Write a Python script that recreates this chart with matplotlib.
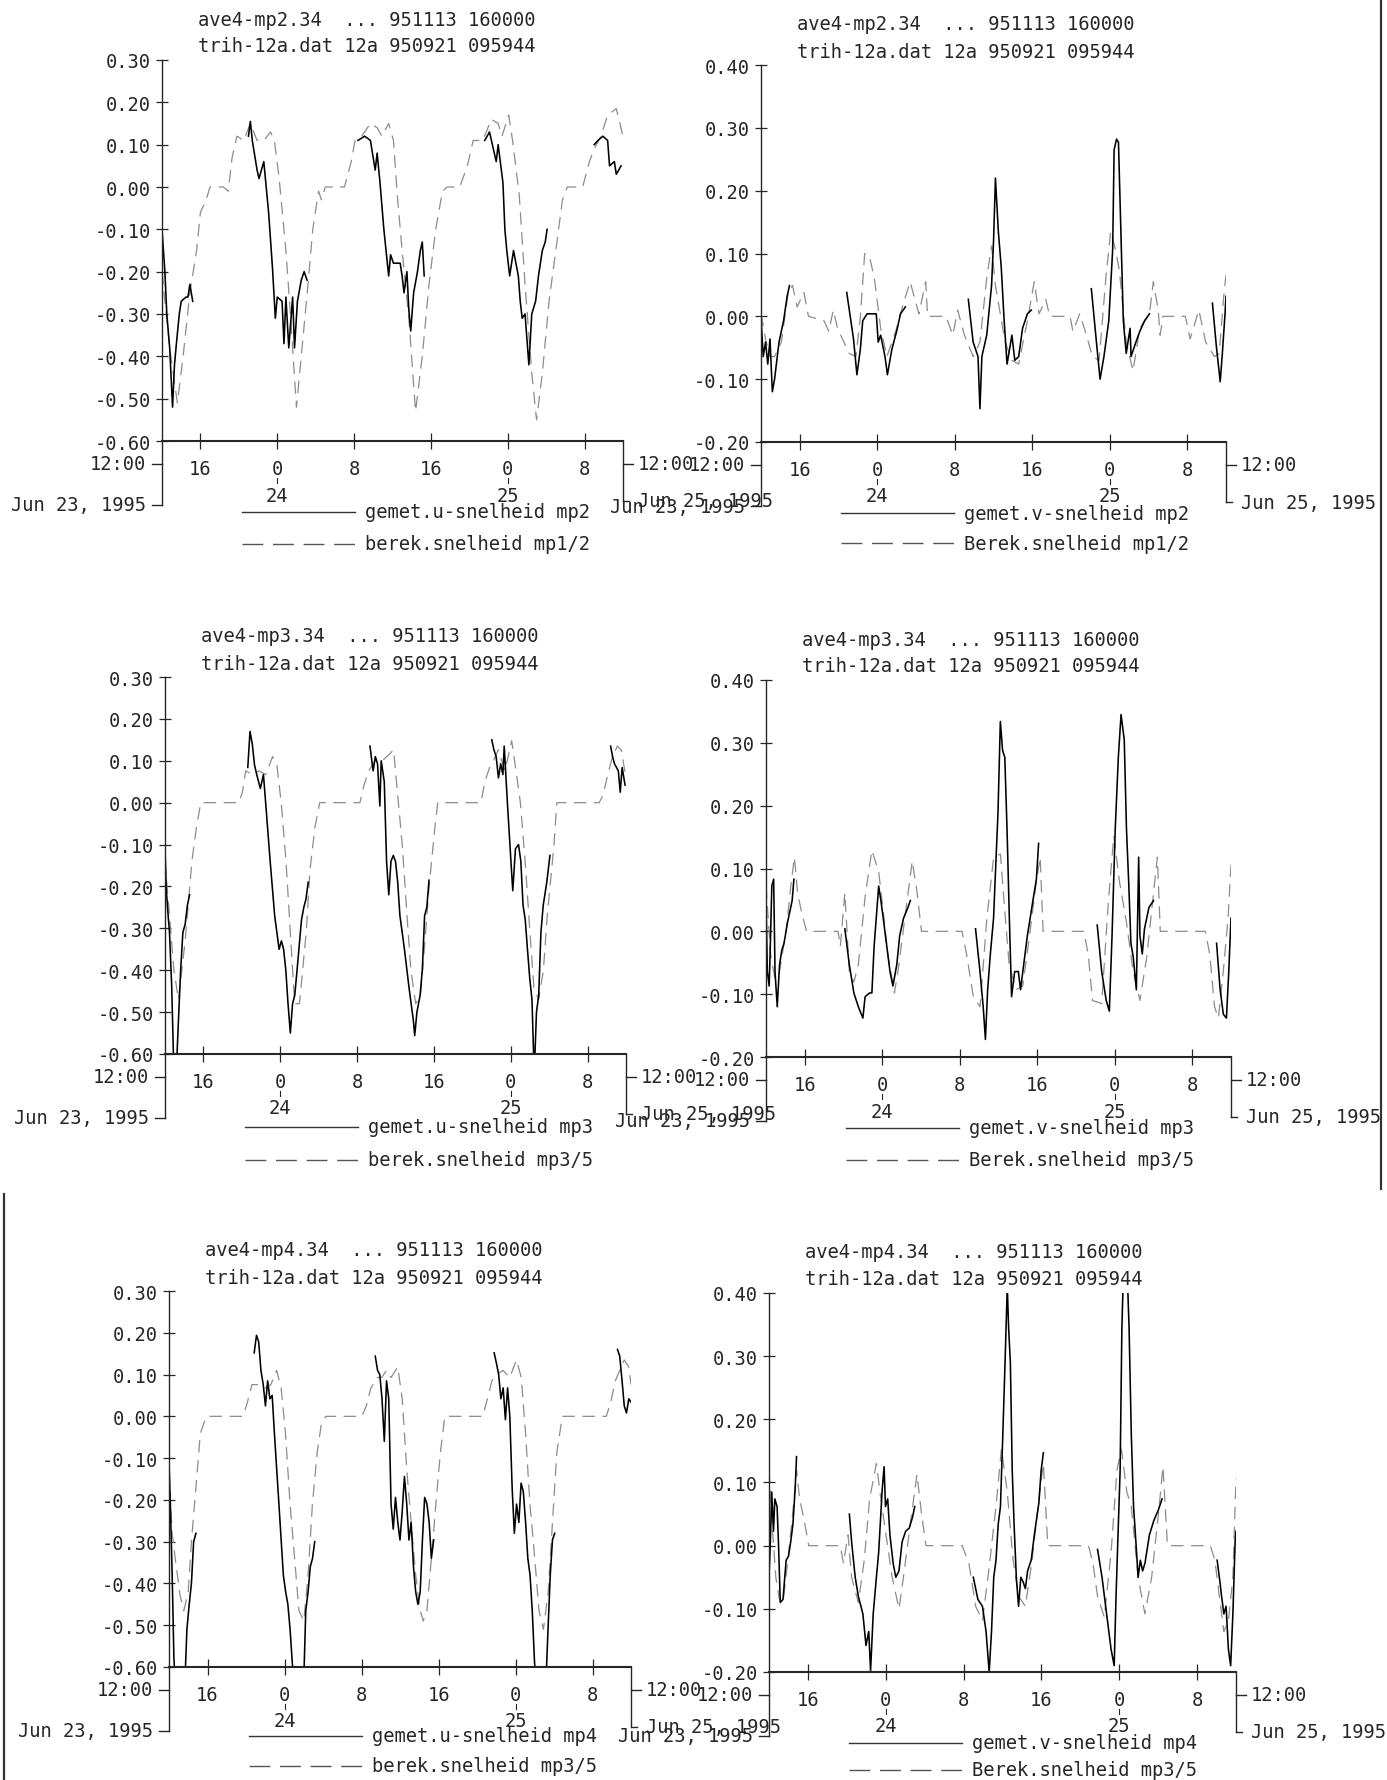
import matplotlib
matplotlib.use("Agg")
import matplotlib.pyplot as plt
from matplotlib.lines import Line2D

W, H = 1387, 1781
FONT = "DejaVu Sans Mono"
FS = 13.5
INK = "#262626"
CALC = "#8c8c8c"
plt.rcParams["font.family"] = [FONT]

# ---- data: (hours since Jun 23 12:00, velocity m/s) ----
# panel 1: u mp2
p1_calc = [(0.0, -0.20), (0.8, -0.38), (1.6, -0.51), (2.2, -0.40), (2.9, -0.25), (3.6, -0.15),
           (4.0, -0.06), (4.6, -0.03), (5.0, 0.00), (6.4, 0.00), (6.9, -0.01), (7.3, 0.07),
           (7.8, 0.12), (8.5, 0.11), (9.2, 0.15), (9.9, 0.11), (10.6, 0.11), (11.3, 0.13),
           (11.7, 0.11), (12.2, 0.02), (12.9, -0.15), (13.4, -0.31), (14.0, -0.52), (14.5, -0.40),
           (15.2, -0.23), (15.7, -0.10), (16.3, -0.01), (16.6, -0.03), (17.0, 0.00), (19.0, 0.00),
           (19.7, 0.06), (20.1, 0.11), (20.8, 0.12), (21.7, 0.15), (22.4, 0.14), (22.9, 0.12),
           (23.6, 0.15), (24.1, 0.11), (24.5, -0.02), (25.0, -0.15), (25.7, -0.31), (26.4, -0.53),
           (27.1, -0.40), (27.8, -0.23), (28.5, -0.10), (29.2, -0.01), (29.7, 0.00), (31.0, 0.00),
           (31.8, 0.05), (32.4, 0.11), (33.4, 0.11), (34.3, 0.16), (35.0, 0.15), (35.4, 0.12),
           (36.1, 0.17), (36.5, 0.11), (37.2, -0.02), (37.8, -0.23), (38.5, -0.44), (39.0, -0.55),
           (39.6, -0.44), (40.3, -0.27), (41.0, -0.15), (41.7, -0.03), (42.2, 0.00), (43.8, 0.00),
           (44.5, 0.06), (45.0, 0.09), (45.7, 0.12), (46.4, 0.17), (47.3, 0.185), (48.0, 0.12)]
p1_meas = [
    [(0, -0.10), (0.3, -0.20), (0.5, -0.30), (0.8, -0.38), (1.1, -0.52), (1.3, -0.42), (1.5, -0.37),
     (1.8, -0.30), (2.0, -0.27), (2.5, -0.26), (2.7, -0.26), (2.9, -0.23), (3.2, -0.27)],
    [(9.0, 0.12), (9.2, 0.155), (9.4, 0.11), (9.9, 0.04), (10.1, 0.02), (10.6, 0.06), (11.1, -0.06),
     (11.5, -0.19), (11.8, -0.31), (12.0, -0.26), (12.5, -0.27), (12.7, -0.37), (12.9, -0.26),
     (13.2, -0.38), (13.6, -0.26), (13.8, -0.38), (14.1, -0.27), (14.5, -0.22), (14.8, -0.20), (15.1, -0.22)],
    [(20.4, 0.11), (21.1, 0.12), (21.7, 0.11), (22.2, 0.04), (22.4, 0.08), (22.7, 0.01), (23.1, -0.10),
     (23.6, -0.21), (23.8, -0.16), (24.1, -0.18), (24.8, -0.18), (25.0, -0.21), (25.2, -0.25),
     (25.5, -0.20), (25.7, -0.29), (25.9, -0.34), (26.2, -0.25), (26.6, -0.20), (26.9, -0.15),
     (27.1, -0.13), (27.3, -0.21)],
    [(33.6, 0.11), (34.1, 0.13), (34.5, 0.09), (34.8, 0.06), (35.0, 0.10), (35.5, 0.01), (35.7, -0.10),
     (35.9, -0.15), (36.2, -0.21), (36.6, -0.15), (37.1, -0.21), (37.3, -0.27), (37.5, -0.31),
     (37.8, -0.30), (38.0, -0.36), (38.2, -0.42), (38.5, -0.30), (38.9, -0.27), (39.2, -0.21),
     (39.6, -0.15), (39.9, -0.13), (40.1, -0.10)],
    [(45.0, 0.10), (45.4, 0.11), (45.9, 0.12), (46.4, 0.11), (46.6, 0.05), (47.1, 0.06), (47.3, 0.03), (47.8, 0.05)],
]

# panel 2: v mp2
p2_calc = [(0.0, 0.004), (0.47, -0.036), (0.93, -0.064), (1.4, -0.064), (2.1, -0.041), (2.8, 0.038),
           (3.26, 0.049), (3.73, 0.015), (4.43, 0.038), (4.9, 0.0), (6.5, -0.007), (7.0, -0.024),
           (7.46, 0.01), (7.9, -0.019), (9.1, -0.059), (9.8, -0.064), (10.25, -0.002), (10.7, 0.10),
           (11.2, 0.095), (11.7, 0.061), (12.35, -0.019), (13.0, -0.064), (14.0, -0.019), (14.7, 0.021),
           (15.4, 0.055), (15.8, 0.032), (16.3, 0.004), (17.0, 0.055), (17.2, 0.0), (19.1, 0.0),
           (19.8, -0.03), (20.3, 0.01), (21.0, -0.03), (21.9, -0.064), (22.6, -0.041), (23.3, 0.061),
           (23.8, 0.112), (24.2, 0.049), (25.2, -0.041), (25.9, -0.07), (26.6, -0.076), (27.5, -0.007),
           (28.2, 0.055), (28.7, 0.004), (29.4, 0.027), (29.8, 0.0), (31.9, 0.0), (32.2, -0.024),
           (32.9, 0.004), (33.6, -0.03), (34.2, -0.064), (34.9, -0.07), (35.6, 0.061), (36.1, 0.135),
           (36.6, 0.106), (37.0, 0.072), (37.7, -0.041), (38.4, -0.087), (39.1, -0.019), (40.1, 0.004),
           (40.5, 0.055), (41.0, 0.01), (41.2, -0.03), (41.5, 0.0), (43.8, 0.0), (44.3, -0.036),
           (45.2, 0.01), (45.9, -0.041), (46.8, -0.064), (47.3, -0.059), (47.8, 0.038), (48.0, 0.066)]
p2_meas = [
    [(0, -0.002), (0.23, -0.064), (0.47, -0.041), (0.7, -0.076), (0.93, -0.036), (1.17, -0.12),
     (1.4, -0.10), (1.86, -0.041), (2.33, -0.007), (2.7, 0.032), (2.94, 0.049)],
    [(8.85, 0.038), (9.55, -0.036), (9.9, -0.093), (10.25, -0.053), (10.5, -0.007), (10.95, 0.004),
     (11.4, 0.004), (11.9, 0.004), (12.1, -0.041), (12.35, -0.03), (12.8, -0.064), (13.05, -0.093),
     (13.5, -0.053), (14.0, -0.024), (14.4, 0.004), (14.9, 0.015)],
    [(21.4, 0.027), (21.9, -0.041), (22.4, -0.064), (22.6, -0.147), (22.8, -0.064), (23.3, -0.03),
     (23.8, 0.049), (24.0, 0.118), (24.2, 0.22), (24.5, 0.135), (24.8, 0.078), (25.1, -0.007),
     (25.4, -0.076), (25.9, -0.03), (26.2, -0.07), (26.6, -0.064), (27.0, -0.019), (27.5, 0.004), (27.9, 0.01)],
    [(34.1, 0.044), (34.7, -0.053), (35.0, -0.10), (35.4, -0.064), (35.9, -0.007), (36.3, 0.106),
     (36.45, 0.265), (36.7, 0.282), (36.9, 0.277), (37.2, 0.106), (37.4, -0.007), (37.7, -0.059),
     (38.1, -0.019), (38.2, -0.064), (38.7, -0.041), (39.1, -0.024), (39.6, -0.007), (40.1, 0.004)],
    [(46.6, 0.021), (47.0, -0.047), (47.4, -0.104), (47.6, -0.064), (47.9, 0.004), (48.0, 0.032)],
]

# panel 3: u mp3
p3_calc = [(0, -0.14), (0.47, -0.27), (0.93, -0.40), (1.4, -0.47), (2.1, -0.33), (2.8, -0.14),
           (3.26, -0.06), (3.73, 0.0), (7.7, 0.0), (8.06, 0.025), (8.4, 0.076), (9.1, 0.067),
           (9.8, 0.076), (10.5, 0.067), (11.2, 0.11), (11.65, 0.09), (12.1, 0.0), (12.6, -0.14),
           (13.05, -0.31), (13.5, -0.48), (14.0, -0.48), (14.7, -0.31), (15.1, -0.16), (15.6, -0.06),
           (16.1, 0.0), (20.3, 0.0), (20.7, 0.04), (21.2, 0.076), (21.9, 0.10), (22.6, 0.10),
           (23.1, 0.11), (23.8, 0.126), (24.2, 0.025), (24.7, -0.10), (25.2, -0.27), (25.6, -0.40),
           (26.1, -0.48), (26.6, -0.46), (27.0, -0.35), (27.5, -0.20), (28.1, -0.06), (28.4, 0.0),
           (32.9, 0.0), (33.3, 0.05), (33.8, 0.084), (34.2, 0.10), (34.7, 0.126), (35.4, 0.076),
           (36.1, 0.148), (36.6, 0.067), (37.0, 0.0), (37.5, -0.14), (38.0, -0.31), (38.4, -0.44),
           (38.9, -0.47), (39.4, -0.40), (39.8, -0.27), (40.5, -0.10), (40.8, 0.0), (45.2, 0.0),
           (45.6, 0.017), (46.1, 0.067), (46.6, 0.11), (47.1, 0.135), (47.5, 0.126), (48.0, 0.059)]
p3_meas = [
    [(0, -0.11), (0.14, -0.21), (0.33, -0.27), (0.47, -0.31), (0.7, -0.44), (0.93, -0.65), (1.16, -0.65),
     (1.4, -0.52), (1.63, -0.40), (1.86, -0.31), (2.1, -0.29), (2.33, -0.245), (2.56, -0.22)],
    [(8.62, 0.084), (8.85, 0.17), (9.09, 0.14), (9.32, 0.09), (9.55, 0.067), (9.93, 0.034), (10.25, 0.067),
     (10.48, 0.0), (10.95, -0.14), (11.42, -0.27), (11.88, -0.35), (12.12, -0.33), (12.35, -0.35),
     (12.58, -0.40), (12.81, -0.48), (13.05, -0.55), (13.28, -0.48), (13.51, -0.46), (13.75, -0.40),
     (14.21, -0.28), (14.45, -0.25), (14.68, -0.23), (14.91, -0.19)],
    [(21.34, 0.135), (21.67, 0.076), (21.9, 0.11), (22.13, 0.093), (22.37, -0.008), (22.51, 0.10),
     (22.83, 0.05), (23.07, -0.14), (23.3, -0.22), (23.53, -0.14), (23.77, -0.126), (24.0, -0.14),
     (24.23, -0.19), (24.46, -0.27), (24.7, -0.31), (24.93, -0.35), (25.4, -0.44), (25.63, -0.48),
     (25.86, -0.52), (26.0, -0.556), (26.23, -0.50), (26.56, -0.46), (26.79, -0.40), (27.03, -0.27),
     (27.26, -0.25), (27.49, -0.185)],
    [(34.02, 0.15), (34.25, 0.126), (34.48, 0.11), (34.72, 0.059), (34.95, 0.093), (35.18, 0.067),
     (35.32, 0.135), (35.65, 0.0), (36.02, -0.14), (36.21, -0.21), (36.49, -0.11), (36.81, -0.10),
     (37.05, -0.14), (37.28, -0.245), (37.51, -0.28), (37.74, -0.35), (37.98, -0.42), (38.21, -0.47),
     (38.44, -0.65), (38.68, -0.50), (38.91, -0.46), (39.14, -0.31), (39.38, -0.245), (39.75, -0.19),
     (40.08, -0.126)],
    [(46.4, 0.135), (46.6, 0.11), (46.8, 0.093), (47.2, 0.076), (47.4, 0.025), (47.6, 0.084), (47.9, 0.042)],
]

# panel 4: v mp3
p4_calc = [(0, 0.072), (0.23, 0.02), (0.47, -0.036), (0.93, -0.076), (1.4, -0.064), (2.1, 0.004),
           (2.56, 0.072), (2.93, 0.118), (3.26, 0.061), (3.72, 0.027), (4.19, 0.0), (7.44, 0.0),
           (7.67, -0.024), (8.14, 0.061), (8.6, -0.064), (9.07, -0.081), (9.53, -0.053), (10.23, 0.055),
           (10.93, 0.129), (11.63, 0.095), (12.1, 0.032), (12.56, -0.036), (13.26, -0.098), (13.72, -0.053),
           (14.42, 0.032), (15.1, 0.112), (15.6, 0.061), (16.05, 0.0), (20.23, 0.0), (20.7, -0.036),
           (21.4, -0.104), (22.1, -0.12), (22.8, 0.021), (23.5, 0.118), (24.2, 0.123), (24.65, 0.032),
           (25.1, -0.053), (25.8, -0.093), (26.5, -0.087), (27.2, -0.007), (27.9, 0.078), (28.3, 0.118),
           (28.6, 0.0), (32.8, 0.0), (33.26, -0.036), (33.7, -0.11), (34.65, -0.115), (35.35, 0.049),
           (35.9, 0.152), (36.5, 0.078), (37.2, 0.015), (37.9, -0.064), (38.6, -0.11), (39.3, -0.041),
           (40.0, 0.061), (40.4, 0.118), (40.7, 0.0), (45.35, 0.0), (45.8, -0.036), (46.3, -0.12),
           (46.7, -0.138), (47.2, -0.064), (47.7, 0.021), (48.0, 0.106)]
p4_meas = [
    [(0, 0.049), (0.14, -0.064), (0.33, -0.087), (0.47, -0.007), (0.6, 0.072), (0.79, 0.083), (0.93, -0.064),
     (1.16, -0.12), (1.4, -0.053), (1.63, -0.03), (1.86, -0.019), (2.23, 0.015), (2.47, 0.032),
     (2.7, 0.049), (2.88, 0.083)],
    [(8.14, 0.004), (8.6, -0.053), (9.07, -0.098), (9.53, -0.12), (10.0, -0.138), (10.23, -0.104),
     (10.7, -0.098), (10.93, -0.098), (11.16, -0.024), (11.63, 0.072), (11.86, 0.049), (12.1, 0.021),
     (12.33, -0.007), (12.8, -0.064), (13.1, -0.087), (13.5, -0.053), (13.8, -0.007), (14.2, 0.021),
     (14.65, 0.038), (14.9, 0.049)],
    [(21.63, 0.004), (22.09, -0.064), (22.42, -0.12), (22.65, -0.172), (22.88, -0.093), (23.16, -0.036),
     (23.49, 0.021), (23.72, 0.106), (23.95, 0.19), (24.19, 0.334), (24.42, 0.288), (24.65, 0.277),
     (24.88, 0.163), (25.12, 0.021), (25.35, -0.104), (25.67, -0.064), (26.05, -0.064), (26.28, -0.093),
     (26.51, -0.064), (26.98, -0.007), (27.44, 0.038), (27.91, 0.083), (28.14, 0.14)],
    [(34.19, 0.01), (34.65, -0.064), (35.12, -0.11), (35.44, -0.127), (35.72, -0.007), (36.05, 0.163),
     (36.37, 0.277), (36.65, 0.345), (36.98, 0.305), (37.21, 0.163), (37.44, 0.078), (37.67, -0.019),
     (37.91, -0.041), (38.23, -0.093), (38.47, 0.118), (38.6, -0.007), (38.84, -0.036), (39.07, 0.004),
     (39.53, 0.038), (40.0, 0.049)],
    [(46.51, -0.019), (46.88, -0.093), (47.21, -0.132), (47.53, -0.138), (47.77, -0.064), (48.0, 0.021)],
]

# panel 5: u mp4
p5_calc = [(0, -0.13), (0.33, -0.28), (0.7, -0.35), (1.16, -0.43), (1.54, -0.465), (2.0, -0.42),
           (2.33, -0.30), (2.8, -0.17), (3.26, -0.04), (3.73, -0.01), (3.96, 0.0), (7.69, 0.0),
           (8.15, 0.034), (8.62, 0.076), (9.32, 0.076), (10.0, 0.068), (10.58, 0.076), (11.18, 0.11),
           (11.65, 0.068), (12.1, -0.04), (12.58, -0.21), (13.05, -0.34), (13.5, -0.465), (14.0, -0.49),
           (14.45, -0.38), (14.9, -0.21), (15.4, -0.085), (15.84, -0.017), (16.3, 0.0), (20.04, 0.0),
           (20.5, 0.025), (20.97, 0.068), (21.67, 0.093), (22.1, 0.093), (22.6, 0.11), (23.07, 0.093),
           (23.77, 0.118), (24.23, 0.042), (24.7, -0.127), (25.16, -0.254), (25.63, -0.38), (26.1, -0.465),
           (26.42, -0.49), (26.8, -0.465), (27.26, -0.34), (27.73, -0.21), (28.2, -0.085), (28.66, 0.0),
           (32.6, 0.0), (33.08, 0.042), (33.55, 0.085), (34.0, 0.10), (34.7, 0.11), (35.4, 0.093),
           (36.1, 0.135), (36.6, 0.093), (37.05, -0.042), (37.5, -0.21), (38.0, -0.34), (38.44, -0.465),
           (38.9, -0.51), (39.4, -0.42), (39.84, -0.254), (40.3, -0.085), (40.87, 0.0), (45.43, 0.0),
           (45.9, 0.034), (46.37, 0.085), (46.83, 0.11), (47.3, 0.135), (47.77, 0.118), (48.0, 0.076)]
p5_meas = [
    [(0, -0.11), (0.14, -0.21), (0.33, -0.38), (0.51, -0.58), (0.7, -0.65), (1.63, -0.65), (1.86, -0.51),
     (2.1, -0.45), (2.33, -0.40), (2.56, -0.30), (2.8, -0.28)],
    [(8.85, 0.152), (9.09, 0.194), (9.32, 0.178), (9.55, 0.11), (9.79, 0.076), (10.02, 0.025), (10.25, 0.085),
     (10.48, 0.042), (10.72, 0.05), (10.95, -0.04), (11.42, -0.21), (11.88, -0.38), (12.12, -0.42),
     (12.35, -0.45), (12.58, -0.51), (12.81, -0.59), (13.05, -0.65), (13.98, -0.65), (14.21, -0.465),
     (14.45, -0.42), (14.68, -0.36), (14.91, -0.34), (15.14, -0.30)],
    [(21.43, 0.144), (21.67, 0.11), (21.9, 0.10), (22.13, 0.042), (22.37, -0.06), (22.6, 0.085),
     (22.83, 0.042), (23.07, -0.21), (23.3, -0.27), (23.53, -0.194), (23.77, -0.254), (24.0, -0.296),
     (24.23, -0.228), (24.46, -0.144), (24.7, -0.21), (24.93, -0.296), (25.16, -0.254), (25.4, -0.36),
     (25.63, -0.42), (25.86, -0.45), (26.1, -0.42), (26.33, -0.296), (26.56, -0.194), (26.8, -0.21),
     (27.03, -0.254), (27.26, -0.34), (27.5, -0.296)],
    [(33.78, 0.152), (34.02, 0.127), (34.25, 0.10), (34.48, 0.042), (34.72, 0.068), (34.95, -0.008),
     (35.18, 0.068), (35.41, 0.0), (35.65, -0.17), (35.88, -0.28), (36.11, -0.21), (36.35, -0.254),
     (36.58, -0.16), (36.81, -0.18), (37.05, -0.254), (37.28, -0.34), (37.51, -0.38), (37.74, -0.465),
     (37.98, -0.59), (38.21, -0.65), (39.14, -0.65), (39.38, -0.51), (39.61, -0.38), (39.84, -0.296),
     (40.07, -0.28)],
    [(46.6, 0.16), (46.83, 0.144), (47.07, 0.085), (47.3, 0.025), (47.53, 0.008), (47.77, 0.042), (48.0, 0.034)],
]

# panel 6: v mp4
p6_calc = [(0, 0.119), (0.37, 0.023), (0.7, -0.05), (1.07, -0.085), (1.44, -0.09), (1.9, -0.028),
           (2.37, 0.04), (2.83, 0.119), (3.15, 0.074), (3.62, 0.04), (4.08, 0.0), (7.33, 0.0),
           (7.65, -0.028), (8.12, 0.017), (8.49, -0.05), (9.18, -0.09), (9.79, -0.023), (10.34, 0.074),
           (11.04, 0.13), (11.5, 0.074), (11.97, 0.023), (12.66, -0.05), (13.36, -0.10), (13.82, -0.05),
           (14.52, 0.034), (15.21, 0.113), (15.68, 0.05), (16.14, 0.0), (19.85, 0.0), (20.55, -0.028),
           (21.24, -0.096), (21.94, -0.119), (22.63, -0.034), (23.33, 0.062), (23.89, 0.153), (24.49, 0.085),
           (25.09, -0.023), (25.65, -0.08), (26.35, -0.096), (27.04, -0.023), (27.74, 0.074), (28.2, 0.13),
           (28.66, 0.0), (32.84, 0.0), (33.3, -0.028), (33.77, -0.08), (34.46, -0.113), (35.16, -0.011),
           (35.76, 0.119), (36.22, 0.153), (36.78, 0.085), (37.24, 0.062), (37.94, -0.05), (38.64, -0.108),
           (39.33, -0.05), (40.03, 0.05), (40.49, 0.125), (40.96, 0.0), (45.36, 0.0), (45.83, -0.023),
           (46.29, -0.08), (46.75, -0.136), (47.22, -0.119), (47.68, -0.05), (48.0, 0.107)]
p6_meas = [
    [(0, -0.05), (0.14, 0.006), (0.28, 0.085), (0.46, 0.023), (0.6, 0.074), (0.83, 0.062), (0.97, 0.006),
     (1.16, -0.09), (1.44, -0.085), (1.76, -0.023), (2.0, -0.017), (2.23, 0.006), (2.46, 0.034),
     (2.69, 0.09), (2.83, 0.141)],
    [(8.26, 0.05), (8.49, 0.006), (8.86, -0.05), (9.18, -0.08), (9.65, -0.108), (9.97, -0.158),
     (10.25, -0.136), (10.44, -0.198), (10.71, -0.108), (11.04, -0.05), (11.27, -0.011), (11.64, 0.09),
     (11.83, 0.125), (11.97, 0.062), (12.2, 0.074), (12.43, 0.017), (12.76, -0.028), (13.03, -0.05),
     (13.36, -0.04), (13.68, 0.006), (14.05, 0.023), (14.42, 0.028), (14.75, 0.045), (14.98, 0.062)],
    [(21.0, -0.05), (21.47, -0.085), (21.94, -0.096), (22.31, -0.136), (22.63, -0.20), (22.87, -0.136),
     (23.1, -0.05), (23.33, -0.023), (23.56, 0.034), (23.79, 0.062), (24.03, 0.175), (24.26, 0.289),
     (24.49, 0.41), (24.63, 0.345), (24.81, 0.289), (25.0, 0.119), (25.19, 0.034), (25.42, -0.05),
     (25.65, -0.096), (25.88, -0.05), (26.11, -0.057), (26.35, -0.068), (26.58, -0.04), (26.95, -0.023),
     (27.27, 0.017), (27.74, 0.068), (27.97, 0.119), (28.2, 0.147)],
    [(33.77, -0.006), (34.23, -0.05), (34.7, -0.108), (34.93, -0.136), (35.16, -0.164), (35.48, -0.19),
     (35.67, -0.08), (35.85, 0.006), (36.09, 0.119), (36.27, 0.345), (36.46, 0.45), (36.78, 0.45),
     (37.01, 0.345), (37.24, 0.175), (37.47, 0.062), (37.71, 0.006), (37.94, -0.05), (38.17, -0.023),
     (38.4, -0.04), (38.64, -0.028), (39.1, 0.017), (39.56, 0.04), (40.03, 0.057), (40.4, 0.074)],
    [(46.06, -0.023), (46.29, -0.05), (46.52, -0.08), (46.75, -0.108), (46.98, -0.096), (47.22, -0.164),
     (47.45, -0.19), (47.68, -0.108), (47.91, 0.006), (48.0, 0.023)],
]

x_ticks = [4, 12, 20, 28, 36, 44]
x_labels = ["16", "0", "8", "16", "0", "8"]
day_ticks = [12, 36]
day_labels = ["24", "25"]
u_ticks = [0.30, 0.20, 0.10, 0.00, -0.10, -0.20, -0.30, -0.40, -0.50, -0.60]
v_ticks = [0.40, 0.30, 0.20, 0.10, 0.00, -0.10, -0.20]

# panel boxes in pixels: x0, x1, y_top, y_bottom; legend row offsets below the axis
panels = [
    dict(box=(162, 623, 61, 442), ticks=u_ticks, calc=p1_calc, meas=p1_meas, mp="mp2",
         leg=("gemet.u-snelheid mp2", "berek.snelheid mp1/2"), legy=(71, 103)),
    dict(box=(761, 1226, 66, 443), ticks=v_ticks, calc=p2_calc, meas=p2_meas, mp="mp2",
         leg=("gemet.v-snelheid mp2", "Berek.snelheid mp1/2"), legy=(71, 101)),
    dict(box=(165, 626, 678, 1055), ticks=u_ticks, calc=p3_calc, meas=p3_meas, mp="mp3",
         leg=("gemet.u-snelheid mp3", "berek.snelheid mp3/5"), legy=(73, 106)),
    dict(box=(766, 1231, 681, 1058), ticks=v_ticks, calc=p4_calc, meas=p4_meas, mp="mp3",
         leg=("gemet.v-snelheid mp3", "Berek.snelheid mp3/5"), legy=(71, 103)),
    dict(box=(169, 631, 1292, 1668), ticks=u_ticks, calc=p5_calc, meas=p5_meas, mp="mp4",
         leg=("gemet.u-snelheid mp4", "berek.snelheid mp3/5"), legy=(69, 99)),
    dict(box=(769, 1236, 1294, 1673), ticks=v_ticks, calc=p6_calc, meas=p6_meas, mp="mp4",
         leg=("gemet.v-snelheid mp4", "Berek.snelheid mp3/5"), legy=(71, 98)),
]

fig = plt.figure(figsize=(W / 100, H / 100), dpi=100)
fig.patch.set_facecolor("white")


def fline(xs, ys, **kw):
    kw.setdefault("color", INK)
    kw.setdefault("lw", 1.0)
    fig.add_artist(Line2D([x / W for x in xs], [1 - y / H for y in ys], **kw))


def ftext(x, y, s, ha="left"):
    fig.text(x / W, 1 - y / H, s, ha=ha, va="center", fontsize=FS, color=INK)


for p in panels:
    x0, x1, yt, yb = p["box"]
    hpx = yb - yt
    ax = fig.add_axes([x0 / W, 1 - yb / H, (x1 - x0) / W, hpx / H])
    ax.set_xlim(0, 48)
    ax.set_ylim(min(p["ticks"]), max(p["ticks"]))

    ct, cv = zip(*p["calc"])
    ax.plot(ct, cv, color=CALC, lw=0.9, ls=(0, (10, 6)))
    for seg in p["meas"]:
        mt, mv = zip(*seg)
        ax.plot(mt, mv, color="black", lw=1.15)

    for s in ("top", "right"):
        ax.spines[s].set_visible(False)
    ax.spines["left"].set_linewidth(1.0)
    ax.spines["bottom"].set_linewidth(1.5)
    ax.spines["left"].set_color(INK)
    ax.spines["bottom"].set_color(INK)

    ax.set_yticks(p["ticks"], [f"{v:.2f}" for v in p["ticks"]])
    ax.tick_params(axis="y", direction="inout", length=8, width=0.9, pad=4,
                   labelsize=FS, colors=INK)
    ax.set_xticks(x_ticks, x_labels)
    ax.tick_params(axis="x", direction="inout", length=12, width=0.9, pad=7,
                   labelsize=FS, colors=INK)

    # day labels under the hour labels
    tr = ax.get_xaxis_transform()
    for d, lab in zip(day_ticks, day_labels):
        ax.plot([d, d], [-37 / hpx, -42 / hpx], transform=tr, clip_on=False, color=INK, lw=0.8)
        ax.text(d, -54 / hpx, lab, transform=tr, ha="center", va="center", fontsize=FS, color=INK)

    # titles
    ftext(x0 + 36, yt - 41, f"ave4-{p['mp']}.34  ... 951113 160000")
    ftext(x0 + 36, yt - 14, "trih-12a.dat 12a 950921 095944")

    # date frame below the axis
    fline([x0, x0], [yb, yb + 64])
    fline([x0 - 10, x0], [yb + 23, yb + 23])
    fline([x0 - 10, x0], [yb + 64, yb + 64])
    ftext(x0 - 16, yb + 23, "12:00", ha="right")
    ftext(x0 - 16, yb + 64, "Jun 23, 1995", ha="right")
    fline([x1, x1], [yb, yb + 60])
    fline([x1, x1 + 10], [yb + 23, yb + 23])
    fline([x1, x1 + 6], [yb + 60, yb + 60])
    ftext(x1 + 15, yb + 23, "12:00")
    ftext(x1 + 15, yb + 60, "Jun 25, 1995")

    # legend
    l1, l2 = p["legy"]
    fline([x0 + 80, x0 + 193], [yb + l1, yb + l1], color="#333333", lw=1.0)
    fline([x0 + 80, x0 + 193], [yb + l2, yb + l2], color="#555555", lw=1.0, ls=(0, (15, 7)))
    ftext(x0 + 203, yb + l1, p["leg"][0])
    ftext(x0 + 203, yb + l2, p["leg"][1])

# scan page edges
fline([1381, 1381], [0, 1190], lw=1.6, color="#333333")
fline([4, 4], [1195, 1781], lw=1.6, color="#333333")

fig.savefig("out.png", dpi=100, facecolor="white")
